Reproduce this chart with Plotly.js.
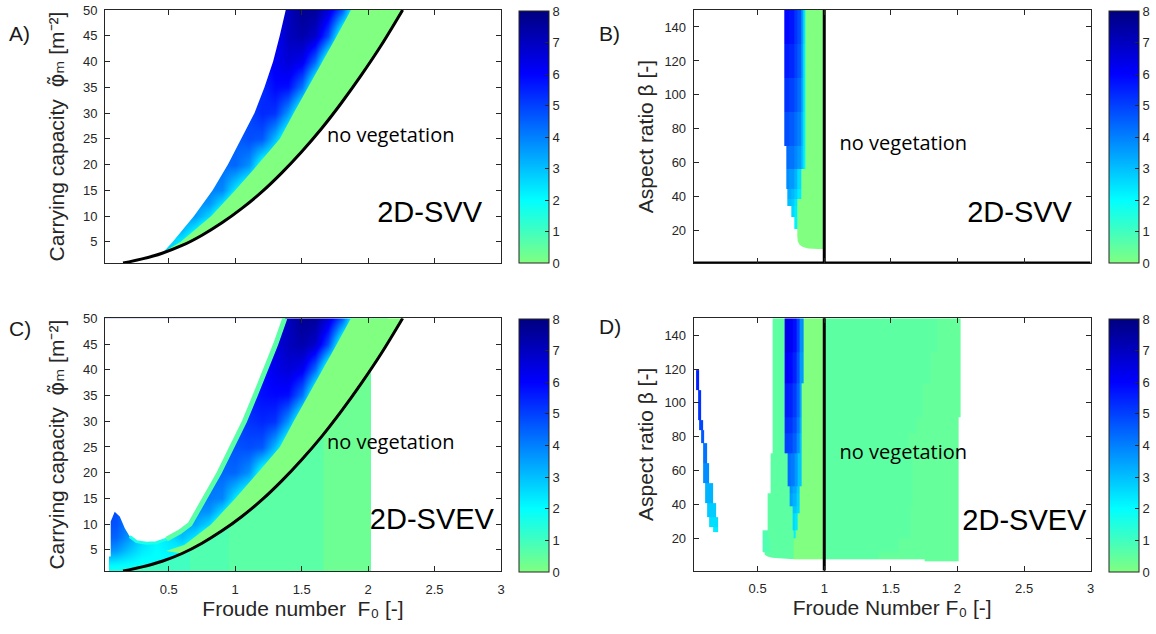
<!DOCTYPE html>
<html><head><meta charset="utf-8">
<script src="https://cdn.plot.ly/plotly-3.0.1.min.js"></script>
<style>html,body{margin:0;padding:0;background:#fff}#chart{width:1156px;height:634px}</style>
</head><body><div id="chart"></div>
<script>
// ---------- colour scale (value 0..8) ----------
const scaleVals = [0, 2, 4, 6, 8];
const scaleCols = [[128,255,128],[0,255,255],[0,128,255],[0,0,255],[0,0,128]];
const colorTicks = [0,1,2,3,4,5,6,7,8];

// ---------- boundary curve "no vegetation" (panels A, C) ----------
const curveX = [0.156,0.3,0.45,0.6,0.75,0.9,1.05,1.2,1.35,1.5,1.65,1.8,1.95,2.1,2.26];
const curveY = [0.9,1.7,2.8,4.3,6.3,8.7,11.5,14.7,18.4,22.5,27.0,32.0,37.4,43.2,50];

// ---------- panel A (2D-SVV, carrying capacity) ----------
const aGridX = [0.0,0.1,0.2,0.3,0.4,0.5,0.6,0.7,0.8,0.9,1.0,1.1,1.2,1.3,1.4,1.5,1.6,1.7,1.8,1.9,2.0,2.1];
const aGridY = [0,2.5,5,7.5,10,12.5,15,20,25,30,35,40,45,50];
const aZ = [
 [2,2,2,2,2,2,2,2,2,2,2,2,2,2,2,2,2,2,2,2,2,2],
 [2.5,2.5,2.5,2.5,2.5,2.5,2.5,2.5,2.5,2.5,2.5,2.5,2.5,2.5,2.5,2.5,2.5,2.5,2.5,2.5,2.5,2.5],
 [2.8,2.8,2.8,2.8,2.8,2.8,2.2,1,1,1,1,1,1,1,1,1,1,1,1,1,1,1],
 [3.2,3.2,3.2,3.2,3.2,3.2,3.2,2.3,1,1,1,1,1,1,1,1,1,1,1,1,1,1],
 [3.6,3.6,3.6,3.6,3.6,3.6,3.6,3.6,2.6,1,1,1,1,1,1,1,1,1,1,1,1,1],
 [3.8,3.8,3.8,3.8,3.8,3.8,3.8,3.8,3.7,2.5,1,1,1,1,1,1,1,1,1,1,1,1],
 [4.0,4.0,4.0,4.0,4.0,4.0,4.0,4.0,4.0,3.9,2.3,1,1,1,1,1,1,1,1,1,1,1],
 [4.3,4.3,4.3,4.3,4.3,4.3,4.3,4.3,4.3,4.3,4.4,3.7,1.5,1,1,1,1,1,1,1,1,1],
 [4.5,4.5,4.5,4.5,4.5,4.5,4.5,4.5,4.5,4.5,4.5,4.8,4.6,3.0,1,1,1,1,1,1,1,1],
 [4.9,4.9,4.9,4.9,4.9,4.9,4.9,4.9,4.9,4.9,4.9,4.9,5.4,5.2,3.6,1,1,1,1,1,1,1],
 [5.3,5.3,5.3,5.3,5.3,5.3,5.3,5.3,5.3,5.3,5.3,5.3,5.3,5.9,5.8,4.2,1,1,1,1,1,1],
 [5.6,5.6,5.6,5.6,5.6,5.6,5.6,5.6,5.6,5.6,5.6,5.6,5.6,6.2,6.6,6.2,4.3,1,1,1,1,1],
 [6.0,6.0,6.0,6.0,6.0,6.0,6.0,6.0,6.0,6.0,6.0,6.0,6.0,6.0,7.0,7.3,6.8,4.8,1,1,1,1],
 [6.2,6.2,6.2,6.2,6.2,6.2,6.2,6.2,6.2,6.2,6.2,6.2,6.2,6.2,7.0,7.7,7.6,6.6,4.6,1,1,1]
];
const aLeftX = [0.46,0.53,0.69,0.83,0.945,1.045,1.145,1.22,1.285,1.335,1.38];
const aLeftY = [3.05,5,10,15,20,25,30,35,40,45,50];
const aCyanX = [0.46,0.59,0.82,1.0,1.17,1.336,1.44,1.55,1.66,1.765,1.871];
const aCyanY = [3.05,5,10,15,20,25,30,35,40,45,50];

// ---------- panel C (2D-SVEV, carrying capacity) ----------
const cGridX = [0.0,0.1,0.2,0.3,0.4,0.5,0.6,0.7,0.8,0.9,1.0,1.1,1.2,1.3,1.4,1.5,1.6,1.7,1.8,1.9,2.0,2.1];
const cGridY = [0,2.5,5,7.5,10,12.5,15,20,25,30,35,40,45,50];
const cZ = [
 [1.2,1.2,1.2,1.1,1.1,1,1,1,1,1,1,1,1,1,1,1,1,1,1,1,1,1],
 [2.4,2.3,2.1,1.9,1.9,1.9,1.6,1,1,1,1,1,1,1,1,1,1,1,1,1,1,1],
 [3.8,3.6,2.9,2.3,2.0,2.2,2.0,1,1,1,1,1,1,1,1,1,1,1,1,1,1,1],
 [4.6,4.4,3.6,2.6,2.1,2.4,3.0,2.3,1,1,1,1,1,1,1,1,1,1,1,1,1,1],
 [4.8,4.7,3.9,3.2,3.2,3.2,3.4,3.4,2.6,1,1,1,1,1,1,1,1,1,1,1,1,1],
 [4.8,4.8,3.9,3.7,3.7,3.7,3.8,3.8,3.7,2.5,1,1,1,1,1,1,1,1,1,1,1,1],
 [4.0,4.0,4.0,4.0,4.0,4.0,4.0,4.0,4.1,3.9,2.3,1,1,1,1,1,1,1,1,1,1,1],
 [4.3,4.3,4.3,4.3,4.3,4.3,4.3,4.3,4.3,4.4,4.4,3.7,1.5,1,1,1,1,1,1,1,1,1],
 [4.5,4.5,4.5,4.5,4.5,4.5,4.5,4.5,4.5,4.6,4.7,4.8,4.6,3.0,1,1,1,1,1,1,1,1],
 [4.9,4.9,4.9,4.9,4.9,4.9,4.9,4.9,4.9,4.9,5.0,5.2,5.4,5.2,3.6,1,1,1,1,1,1,1],
 [5.3,5.3,5.3,5.3,5.3,5.3,5.3,5.3,5.3,5.3,5.3,5.5,5.8,5.9,5.8,4.2,1,1,1,1,1,1],
 [5.6,5.6,5.6,5.6,5.6,5.6,5.6,5.6,5.6,5.6,5.6,5.6,5.9,6.3,6.6,6.2,4.3,1,1,1,1,1],
 [6.0,6.0,6.0,6.0,6.0,6.0,6.0,6.0,6.0,6.0,6.0,6.0,6.0,6.5,7.0,7.3,6.8,4.8,1,1,1,1],
 [6.2,6.2,6.2,6.2,6.2,6.2,6.2,6.2,6.2,6.2,6.2,6.2,6.2,6.4,7.0,7.7,7.6,6.6,4.6,1,1,1]
];
const cUpX = [0.05,0.05,0.063,0.063,0.093,0.131,0.169,0.206,0.257,0.332,0.407,0.483,0.583,0.66,0.77,0.88,0.975,1.07,1.15,1.23,1.305,1.373];
const cUpY = [-5,3.7,3.7,10.5,12.4,11.5,9.2,7.6,6.6,6.3,6.4,7.1,8.5,10,15,20,25,30,35,40,45,50];
const cCyanX = [0.48,0.62,0.82,1.0,1.17,1.336,1.44,1.55,1.66,1.765,1.871];
const cCyanY = [4.8,6,10,15,20,25,30,35,40,45,50];
const cColEdges = [0.156,0.658,0.947,1.662,2.02];
const cColVals = [1.0,0.75,0.6,0.3];

// ---------- panel B (2D-SVV, aspect ratio) : rows of cells ----------
const bRowY = [9.2,17,21,27.9,34.7,38.7,44.6,56.4,70.2,90,110,130,150];
const bRowX = [
 [0.795,1.0],
 [0.795,1.0],
 [0.775,0.795,1.0],
 [0.75,0.775,0.795,1.0],
 [0.725,0.75,0.775,0.795,1.0],
 [0.725,0.75,0.775,0.80,0.825,1.0],
 [0.713,0.74,0.775,0.80,0.825,1.0],
 [0.713,0.74,0.775,0.80,0.825,0.845,0.855,1.0],
 [0.70,0.74,0.775,0.80,0.825,0.845,0.855,1.0],
 [0.70,0.74,0.775,0.80,0.825,0.845,0.855,1.0],
 [0.70,0.74,0.775,0.80,0.825,0.845,0.855,1.0],
 [0.70,0.74,0.775,0.80,0.825,0.845,0.855,1.0]
];
const bRowV = [
 [0],
 [0],
 [2.2,0],
 [2.6,2.3,0],
 [3.0,2.8,2.4,0],
 [3.3,3.1,2.8,2.3,0],
 [3.8,3.6,3.2,2.5,0],
 [4.3,4.2,3.9,3.6,2.9,2.2,0],
 [4.8,4.6,4.3,4.0,3.1,2.2,0],
 [5.2,5.0,4.7,4.3,3.3,2.3,0],
 [5.6,5.4,5.0,4.6,3.5,2.3,0],
 [5.9,5.7,5.2,4.8,3.6,2.4,0]
];
const bBottomX = [0.78,0.795,0.80,0.815,0.84,0.88,0.95,1.01,1.01,0.78];
const bBottomY = [17,17,14,11.8,10.4,9.6,9.2,9.2,5,5];

// ---------- panel D (2D-SVEV, aspect ratio) : rows of cells ----------
const dRowY = [6.6,7.6,12,20,24.9,34.7,38.7,46.5,50.5,70,82,91.8,111.5,130,150];
const dRowX = [
 [1.75,2.005],
 [0.55,0.77,1.0,1.41,2.005],
 [0.537,0.59,0.77,1.0,1.56,2.005],
 [0.537,0.575,0.77,0.788,1.0,1.65,2.005],
 [0.575,0.763,0.78,0.80,1.0,1.65,2.005],
 [0.575,0.763,0.79,0.818,1.0,1.65,2.005],
 [0.575,0.738,0.76,0.79,0.818,1.0,1.66,2.005],
 [0.595,0.738,0.76,0.79,0.818,1.0,1.66,2.005],
 [0.595,0.725,0.75,0.775,0.80,0.833,1.0,1.66,2.005],
 [0.613,0.703,0.73,0.76,0.79,0.815,0.833,1.0,1.63,2.005],
 [0.613,0.703,0.73,0.76,0.79,0.815,0.833,1.0,1.69,2.005],
 [0.613,0.703,0.73,0.76,0.79,0.815,0.833,1.0,1.74,2.02],
 [0.613,0.703,0.73,0.76,0.79,0.815,0.843,1.0,1.80,2.02],
 [0.613,0.703,0.73,0.76,0.79,0.815,0.843,1.0,1.85,2.02]
];
const dRowV = [
 [0.42],
 [0.55,0,0.55,0.42],
 [0.75,0.55,0,0.55,0.42],
 [0.75,0.55,2.2,0,0.55,0.42],
 [0.55,2.6,2.4,0,0.55,0.42],
 [0.55,2.9,2.6,0,0.55,0.42],
 [0.55,3.5,3.2,2.7,0,0.55,0.42],
 [0.55,3.7,3.4,2.8,0,0.55,0.42],
 [0.55,4.3,4.1,3.6,2.9,0,0.55,0.42],
 [0.55,5.0,4.9,4.5,3.8,3.0,0,0.55,0.42],
 [0.55,5.3,5.2,4.8,4.1,3.2,0,0.55,0.42],
 [0.55,5.6,5.5,5.1,4.4,3.4,0,0.55,0.42],
 [0.55,6.0,5.9,5.5,4.7,3.6,0,0.55,0.42],
 [0.55,6.3,6.2,5.8,5.0,3.8,0,0.55,0.42]
];
const streakY = [23.9,26.9,32.8,40.7,52.5,64.3,76.1,83.9,89.8,107.6,119.4];
const streakL = [0.163,0.138,0.118,0.108,0.093,0.088,0.075,0.058,0.05,0.038];
const streakR = [0.2,0.205,0.188,0.163,0.138,0.12,0.1,0.088,0.075,0.058];
const streakV = [2.3,2.5,2.8,3.2,3.8,4.2,4.6,4.9,5.2,5.5];
const dCornerX = [0.5,0.5,0.537,0.55,0.575,0.61,0.66,0.72,0.77,0.77];
const dCornerY = [5,13,12,10.5,9.3,8.6,8.2,7.9,7.6,5];

// ---------- texts ----------
const panelLetters = ['A)','B)','C)','D)'];
const noVegText = 'no vegetation';
const modelNames = ['2D-SVV','2D-SVV','2D-SVEV','2D-SVEV'];
const froudeTicks = [0.5,1,1.5,2,2.5,3];

// ---------- helpers ----------
const FONT = 'Liberation Sans, Arial, Helvetica, sans-serif';
const INK = '#262626';
const colorscale = scaleVals.map((v,i) => [v/8, 'rgb(' + scaleCols[i].join(',') + ')']);
function colorOf(v){
  for (let i = 0; i < scaleVals.length - 1; i++) {
    if (v <= scaleVals[i+1]) {
      const t = (v - scaleVals[i]) / (scaleVals[i+1] - scaleVals[i]);
      const c = scaleCols[i].map((a,k) => Math.round(a + t*(scaleCols[i+1][k]-a)));
      return 'rgb(' + c.join(',') + ')';
    }
  }
  return 'rgb(' + scaleCols[scaleCols.length-1].join(',') + ')';
}
function curveAt(x){
  for (let i = 0; i < curveX.length - 1; i++) {
    if (x <= curveX[i+1]) return curveY[i] + (x-curveX[i])/(curveX[i+1]-curveX[i])*(curveY[i+1]-curveY[i]);
  }
  return curveY[curveY.length-1];
}
function buildRows(rowY, rowX, rowV){
  const set = new Set(); rowX.forEach(r => r.forEach(v => set.add(v)));
  const xs = Array.from(set).sort((a,b)=>a-b);
  const z = rowX.map((edges,i) => {
    const row = [];
    for (let j = 0; j < xs.length-1; j++) {
      const mid = (xs[j]+xs[j+1])/2; let val = null;
      for (let k = 0; k < edges.length-1; k++) if (mid > edges[k] && mid < edges[k+1]) { val = rowV[i][k]; break; }
      row.push(val);
    }
    return row;
  });
  return {x: xs, y: rowY, z: z};
}
function cbar(x, yc, len){
  return {x: x, xanchor:'left', y: yc, yanchor:'middle', len: len, lenmode:'fraction',
    thickness: 30, thicknessmode:'pixels', xpad:0, ypad:0, outlinewidth:1, outlinecolor:INK,
    tickvals: colorTicks, ticks:'inside', ticklen:4, tickcolor:INK,
    tickfont:{family:FONT, size:13, color:INK}};
}
function heat(extra, xa, ya){
  return Object.assign({type:'heatmap', colorscale: colorscale, zmin:0, zmax:8, zauto:false,
    hoverinfo:'skip', xaxis: xa, yaxis: ya, showscale:false}, extra);
}
function fillPoly(xs, ys, color, xa, ya){
  return {type:'scatter', mode:'lines', x: xs, y: ys, fill:'toself', fillcolor: color,
    line:{width:0, color: color}, hoverinfo:'skip', showlegend:false, xaxis: xa, yaxis: ya};
}
function line(xs, ys, color, w, xa, ya, shape){
  return {type:'scatter', mode:'lines', x: xs, y: ys, line:{width:w, color: color, shape: shape||'linear'},
    hoverinfo:'skip', showlegend:false, xaxis: xa, yaxis: ya};
}
function label(txt, x, y, pos, font, size, color, xa, ya){
  return {type:'scatter', mode:'text', x:[x], y:[y], text:[txt], textposition: pos, cliponaxis:false,
    textfont:{family: font, size: size, color: color}, hoverinfo:'skip', showlegend:false, xaxis: xa, yaxis: ya};
}
const last = a => a[a.length-1];
const WHITE = '#ffffff';

const traces = [];
// ===== Panel A =====
traces.push(heat({x:aGridX, y:aGridY, z:aZ, zsmooth:'best', showscale:true,
  colorbar: cbar(519/1156, 1-137/634, 252/634)}, 'x', 'y'));
traces.push(fillPoly([-1,-1,aLeftX[0]].concat(aLeftX,[last(aLeftX)]), [60,-5,-5].concat(aLeftY,[60]), WHITE, 'x','y'));
traces.push(fillPoly([curveX[0]].concat(curveX,[last(curveX),4,4]), [-5].concat(curveY,[60,60,-5]), WHITE, 'x','y'));
(function(){
  const xs = aCyanX.slice(), ys = aCyanY.slice();
  for (let i = curveX.length-1; i >= 0; i--) if (curveX[i] >= 0.45) { xs.push(curveX[i]); ys.push(curveY[i]); }
  traces.push(fillPoly(xs, ys, colorOf(0), 'x','y'));
})();
traces.push(line(curveX, curveY, '#000', 3, 'x','y','spline'));

// ===== Panel B =====
const bGrid = buildRows(bRowY, bRowX, bRowV);
traces.push(heat({x:bGrid.x, y:bGrid.y, z:bGrid.z, zsmooth:false, showscale:true,
  colorbar: cbar(1109/1156, 1-137/634, 252/634)}, 'x2', 'y2'));
traces.push(fillPoly(bBottomX, bBottomY, WHITE, 'x2','y2'));
traces.push(line([1,1],[-10,160], '#000', 3, 'x2','y2'));
traces.push(line([0,3],[1.4,1.4], '#000', 1.5, 'x2','y2'));

// ===== Panel C =====
traces.push(heat({x:cGridX, y:cGridY, z:cZ, zsmooth:'best', showscale:true,
  colorbar: cbar(519/1156, 1-445.5/634, 253/634)}, 'x3', 'y3'));
traces.push(fillPoly([-1].concat(cUpX,[last(cUpX),-1]), [-5].concat(cUpY,[60,60]), WHITE, 'x3','y3'));
(function(){
  const xs = [2.02, 2.02], ys = [-5, curveAt(2.02)];
  for (let i = 0; i < curveX.length; i++) if (curveX[i] > 2.02) { xs.push(curveX[i]); ys.push(curveY[i]); }
  xs.push(last(curveX), 4, 4); ys.push(60, 60, -5);
  traces.push(fillPoly(xs, ys, WHITE, 'x3','y3'));
})();
(function(){
  const dipX = [], dipY = [], upX = [], upY = [];
  for (let i = 0; i < cUpX.length; i++) {
    if (cUpX[i] >= 0.2 && cUpX[i] <= 0.49) { dipX.push(cUpX[i]); dipY.push(cUpY[i]); }
    if (cUpX[i] >= 0.48) { upX.push(cUpX[i]); upY.push(cUpY[i]); }
  }
  traces.push(line(dipX, dipY, colorOf(1.6), 3, 'x3','y3'));
  traces.push(line(upX, upY, colorOf(0.6), 5, 'x3','y3'));
})();
(function(){
  const xs = cCyanX.slice(), ys = cCyanY.slice();
  for (let i = curveX.length-1; i >= 0; i--) if (curveX[i] >= 0.6) { xs.push(curveX[i]); ys.push(curveY[i]); }
  traces.push(fillPoly(xs, ys, colorOf(0), 'x3','y3'));
})();
for (let c = 0; c < cColVals.length; c++) {
  const x0 = cColEdges[c], x1 = cColEdges[c+1];
  const xs = [x0, x1, x1], ys = [-5, -5, curveAt(x1)];
  for (let i = curveX.length-1; i >= 0; i--) if (curveX[i] > x0 && curveX[i] < x1) { xs.push(curveX[i]); ys.push(curveY[i]); }
  xs.push(x0); ys.push(curveAt(x0));
  traces.push(fillPoly(xs, ys, colorOf(cColVals[c]), 'x3','y3'));
}
traces.push(line(curveX, curveY, '#000', 3, 'x3','y3','spline'));

// ===== Panel D =====
const sGrid = buildRows(streakY, streakL.map((l,i)=>[l, streakR[i]]), streakV.map(v=>[v]));
traces.push(heat({x:sGrid.x, y:sGrid.y, z:sGrid.z, zsmooth:false}, 'x4', 'y4'));
const dGrid = buildRows(dRowY, dRowX, dRowV);
traces.push(heat({x:dGrid.x, y:dGrid.y, z:dGrid.z, zsmooth:false, showscale:true,
  colorbar: cbar(1109/1156, 1-445.5/634, 253/634)}, 'x4', 'y4'));
traces.push(fillPoly(dCornerX, dCornerY, WHITE, 'x4','y4'));
traces.push(line([1,1],[-10,160], '#000', 3, 'x4','y4'));

// ===== in-plot texts =====
const NVF = 'Open Sans, DejaVu Sans, sans-serif';
traces.push(label(noVegText, 1.69, 25.4, 'middle right', NVF, 20, '#000', 'x','y'));
traces.push(label(noVegText, 1.115, 70.3, 'middle right', NVF, 20, '#000', 'x2','y2'));
traces.push(label(noVegText, 1.69, 25.5, 'middle right', NVF, 20, '#000', 'x3','y3'));
traces.push(label(noVegText, 1.115, 69.6, 'middle right', NVF, 20, '#000', 'x4','y4'));
traces.push(label(modelNames[0], 2.857, 10.3, 'middle left', FONT, 29, '#000', 'x','y'));
traces.push(label(modelNames[1], 2.859, 29.5, 'middle left', FONT, 29, '#000', 'x2','y2'));
traces.push(label(modelNames[2], 2.947, 10.4, 'middle left', FONT, 29, '#000', 'x3','y3'));
traces.push(label(modelNames[3], 2.968, 29.5, 'middle left', FONT, 29, '#000', 'x4','y4'));

// ---------- layout ----------
const axBase = {showline:true, linecolor:INK, linewidth:1, mirror:'allticks', ticks:'inside', ticklen:5,
  tickwidth:1, tickcolor:INK, showgrid:false, zeroline:false, fixedrange:true,
  tickfont:{family:FONT, size:13, color:INK}};
const xTicksShown = {tickmode:'array', tickvals:froudeTicks, range:[0.02,3]};
const xTicksHidden = {tickmode:'array', tickvals:froudeTicks, range:[0.02,3], showticklabels:false};
const titleFont = {family:FONT, size:21, color:INK};
const yTitleA = 'Carrying capacity  <span style="font-family:DejaVu Sans">\u03C6\u0303\u2098</span> [m\u207B\u00B2]';
const yTitleB = 'Aspect ratio \u03B2 [-]';
const letterFont = {family:FONT, size:21, color:'#1a1a1a'};
const layout = {
  width:1156, height:634, autosize:false, paper_bgcolor:'#fff', plot_bgcolor:'#fff',
  font:{family:FONT, size:13, color:INK},
  margin:{l:0, r:0, t:0, b:0, autoexpand:false}, showlegend:false,
  xaxis: Object.assign({}, axBase, xTicksHidden, {domain:[105/1156, 501/1156], anchor:'y'}),
  yaxis: Object.assign({}, axBase, {domain:[1-263/634, 1-10/634], anchor:'x', range:[0.9,50],
    tickvals:[5,10,15,20,25,30,35,40,45,50], ticklabelstandoff:4,
    title:{text:yTitleA, font:titleFont, standoff:12}}),
  xaxis2: Object.assign({}, axBase, xTicksHidden, {domain:[693.7/1156, 1090.7/1156], anchor:'y2'}),
  yaxis2: Object.assign({}, axBase, {domain:[1-263/634, 1-10/634], anchor:'x2', range:[1,150],
    tickvals:[20,40,60,80,100,120,140], ticklabelstandoff:4,
    title:{text:yTitleB, font:titleFont, standoff:5}}),
  xaxis3: Object.assign({}, axBase, xTicksShown, {domain:[105/1156, 501/1156], anchor:'y3', ticklabelstandoff:6,
    title:{text:'Froude number  F\u2080 [-]', font:titleFont, standoff:4}}),
  yaxis3: Object.assign({}, axBase, {domain:[1-571/634, 1-318.3/634], anchor:'x3', range:[0.9,50],
    tickvals:[5,10,15,20,25,30,35,40,45,50], ticklabelstandoff:4,
    title:{text:yTitleA, font:titleFont, standoff:12}}),
  xaxis4: Object.assign({}, axBase, xTicksShown, {domain:[693.7/1156, 1090.7/1156], anchor:'y4', ticklabelstandoff:6,
    title:{text:'Froude Number F\u2080 [-]', font:titleFont, standoff:4}}),
  yaxis4: Object.assign({}, axBase, {domain:[1-570.5/634, 1-318.3/634], anchor:'x4', range:[1,150],
    tickvals:[20,40,60,80,100,120,140], ticklabelstandoff:4,
    title:{text:yTitleB, font:titleFont, standoff:5}}),
  annotations: [
    {text:panelLetters[0], xref:'paper', yref:'paper', x:7/1156, y:1-33/634, xanchor:'left', yanchor:'middle', showarrow:false, font:letterFont},
    {text:panelLetters[1], xref:'paper', yref:'paper', x:597/1156, y:1-33/634, xanchor:'left', yanchor:'middle', showarrow:false, font:letterFont},
    {text:panelLetters[2], xref:'paper', yref:'paper', x:7/1156, y:1-328/634, xanchor:'left', yanchor:'middle', showarrow:false, font:letterFont},
    {text:panelLetters[3], xref:'paper', yref:'paper', x:597/1156, y:1-326/634, xanchor:'left', yanchor:'middle', showarrow:false, font:letterFont}
  ]
};
Plotly.newPlot('chart', traces, layout, {staticPlot:true, displayModeBar:false});
</script>
</body></html>
